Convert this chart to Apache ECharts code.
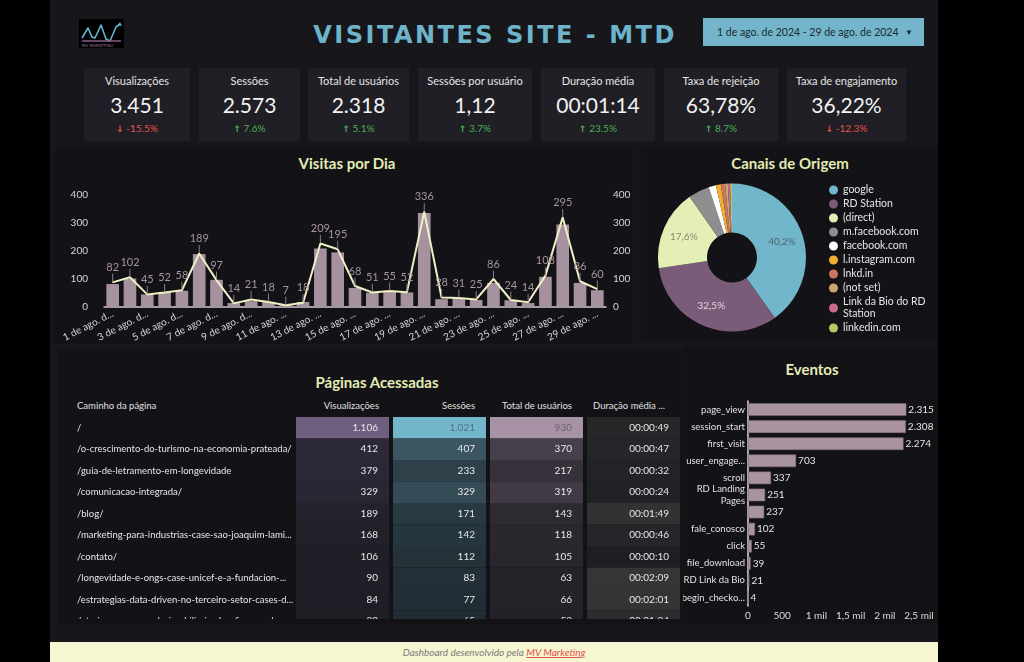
<!DOCTYPE html>
<html lang="pt-BR">
<head>
<meta charset="utf-8">
<title>Visitantes Site - MTD</title>
<script src="https://cdn.jsdelivr.net/npm/echarts@6/dist/echarts.min.js"></script>
<style>
html,body{margin:0;padding:0;background:#000;width:1024px;height:662px;overflow:hidden;font-family:Lato,"Noto Sans",sans-serif;}
.abs{position:absolute;}
#main{left:50px;top:0;width:888px;height:642px;background:#17161b;}
.panel{background:#131217;}
.title{color:#e3ecb2;font-weight:700;font-size:15px;text-align:center;line-height:20px;white-space:nowrap;}
.card{background:#201f25;text-align:center;}
.card .t{position:absolute;left:0;right:0;top:6px;font-size:11px;color:#e4e4e4;line-height:14px;white-space:nowrap;}
.card .v{position:absolute;left:0;right:0;top:24px;font-size:21px;color:#f2f2f2;line-height:26px;font-weight:400;}
.card .d{position:absolute;left:0;right:0;top:54px;font-size:10px;line-height:13px;}
.hdr{font-size:9.5px;color:#e0e0e0;line-height:12px;white-space:nowrap;}
#footer{left:50px;top:642px;width:888px;height:20px;background:#f6f7d2;text-align:center;font-size:10px;line-height:20px;font-style:italic;color:#7a7a7a;}
#footer a{color:#e0504a;text-decoration:underline;}
</style>
</head>
<body>
<div id="main" class="abs"></div>
<div class="abs panel" style="left:55px;top:148px;width:578px;height:196px"></div>
<div class="abs panel" style="left:641px;top:148px;width:297px;height:193px"></div>
<div class="abs panel" style="left:58px;top:350px;width:624px;height:274px"></div>
<div class="abs panel" style="left:683px;top:346px;width:255px;height:278px"></div>

<svg class="abs" style="left:79px;top:19px" width="45" height="29" viewBox="0 0 45 29">
  <rect x="0" y="0" width="45" height="29" fill="#000"/>
  <polyline points="3,19 9,9 13,18 16,19 22,6 27,20 31,22 37,8 41,5" fill="none" stroke="#5fb8cf" stroke-width="1.6" stroke-linejoin="round"/>
  <polygon points="41,3 43,7 39,6" fill="#5fb8cf"/>
  <line x1="3" y1="22" x2="42" y2="22" stroke="#8a5d86" stroke-width="1.5"/>
  <text x="3" y="27.5" font-size="4" fill="#9b6b98" font-family="DejaVu Sans">MV MARKETING</text>
</svg>
<div class="abs" style="left:250px;top:20px;width:490px;text-align:center;font-size:24px;line-height:30px;font-weight:700;letter-spacing:2.5px;color:#6db4ca;font-family:'DejaVu Sans',sans-serif;">VISITANTES SITE - MTD</div>
<div class="abs" style="left:703px;top:18px;width:221px;height:28px;background:#73b5ca;color:#1d2a30;font-size:10.5px;line-height:28px;">
  <span style="position:absolute;left:14px;">1 de ago. de 2024 - 29 de ago. de 2024</span>
  <span style="position:absolute;left:202px;font-size:8px;">&#9660;</span>
</div>

<div id="cards"></div>

<div class="abs title" style="left:247px;top:153px;width:200px;">Visitas por Dia</div>
<div class="abs title" style="left:690px;top:153px;width:200px;">Canais de Origem</div>
<div class="abs title" style="left:277px;top:372px;width:200px;">Páginas Acessadas</div>
<div class="abs title" style="left:712px;top:359px;width:200px;">Eventos</div>

<div id="bar" class="abs" style="left:55px;top:172px;width:580px;height:175px"></div>
<div id="pie" class="abs" style="left:643px;top:150px;width:295px;height:195px"></div>

<div class="abs hdr" style="left:77px;top:400px;">Caminho da página</div>
<div class="abs hdr" style="left:279px;top:400px;width:100px;text-align:right;">Visualizações</div>
<div class="abs hdr" style="left:375px;top:400px;width:100px;text-align:right;">Sessões</div>
<div class="abs hdr" style="left:472px;top:400px;width:100px;text-align:right;">Total de usuários</div>
<div class="abs hdr" style="left:593px;top:400px;">Duração média ...</div>
<div class="abs" style="left:60px;top:412px;width:630px;height:207px;overflow:hidden;">
  <div id="table" style="position:absolute;left:0;top:0;width:630px;height:225px"></div>
</div>

<div id="events" class="abs" style="left:683px;top:350px;width:255px;height:280px"></div>

<div id="footer" class="abs">Dashboard desenvolvido pela <a>MV Marketing</a></div>

<script>
// ---------------- DATA ----------------
const kpiTitles = ['Visualizações','Sessões','Total de usuários','Sessões por usuário','Duração média','Taxa de rejeição','Taxa de engajamento'];
const kpiValues = ['3.451','2.573','2.318','1,12','00:01:14','63,78%','36,22%'];
const kpiDeltas = [-15.5, 7.6, 5.1, 3.7, 23.5, 8.7, -12.3];

const days = ['1 de ago. de 2024','2 de ago. de 2024','3 de ago. de 2024','4 de ago. de 2024','5 de ago. de 2024','6 de ago. de 2024','7 de ago. de 2024','8 de ago. de 2024','9 de ago. de 2024','10 de ago. de 2024','11 de ago. de 2024','12 de ago. de 2024','13 de ago. de 2024','14 de ago. de 2024','15 de ago. de 2024','16 de ago. de 2024','17 de ago. de 2024','18 de ago. de 2024','19 de ago. de 2024','20 de ago. de 2024','21 de ago. de 2024','22 de ago. de 2024','23 de ago. de 2024','24 de ago. de 2024','25 de ago. de 2024','26 de ago. de 2024','27 de ago. de 2024','28 de ago. de 2024','29 de ago. de 2024'];
const visitasBar  = [82,102,45,52,58,189,97,14,21,18,7,18,209,195,68,51,55,52,336,28,31,25,86,24,14,108,295,86,60];
const visitasLine = [88,106,45,52,60,191,96,13,27,18,6,15,227,206,75,52,57,53,340,34,32,27,100,25,17,112,320,92,64];
const axisTicks = [0,100,200,300,400];

const canais = ['google','RD Station','(direct)','m.facebook.com','facebook.com','l.instagram.com','lnkd.in','(not set)','Link da Bio do RD Station','linkedin.com'];
const canaisPct = [40.2,32.5,17.6,4.6,1.6,1.1,0.9,0.6,0.5,0.4];
const canaisCores = ['#72b6cb','#7b5c78','#e4efb6','#8e8e8e','#ffffff','#f0ad2e','#c9785f','#c9a86a','#cc6a8c','#b7c963'];

const paginas = ['/','/o-crescimento-do-turismo-na-economia-prateada/','/guia-de-letramento-em-longevidade','/comunicacao-integrada/','/blog/','/marketing-para-industrias-case-sao-joaquim-lami...','/contato/','/longevidade-e-ongs-case-unicef-e-a-fundacion-ma...','/estrategias-data-driven-no-terceiro-setor-cases-d...','/etarismo-e-mercado-imobiliario-desafios-e-solucoe...'];
const pagViews    = [1106,412,379,329,189,168,106,90,84,80];
const pagSessoes  = [1021,407,233,329,171,142,112,83,77,65];
const pagUsuarios = [930,370,217,319,143,118,105,63,66,53];
const pagDuracao  = ['00:00:49','00:00:47','00:00:32','00:00:24','00:01:49','00:00:46','00:00:10','00:02:09','00:02:01','00:01:24'];

const eventos = ['page_view','session_start','first_visit','user_engagement','scroll','RD Landing Pages',' ','fale_conosco','click','file_download','RD Link da Bio','begin_checkout'];
const eventosVal = [2315,2308,2274,703,337,251,237,102,55,39,21,4];
const eventosTicks = [0,500,1000,1500,2000,2500];

// ---------------- HELPERS ----------------
const FONT = 'Lato, "Noto Sans", sans-serif';
const fmtInt = n => String(n).replace(/\B(?=(\d{3})+(?!\d))/g, '.');
const toSec = s => { const p = s.split(':').map(Number); return p[0]*3600 + p[1]*60 + p[2]; };
function parseColor(c) {
  if (!c) return [0, 0, 0];
  c = String(c).trim();
  if (c[0] === '#') {
    let h = c.slice(1);
    if (h.length === 3) h = h.split('').map(x => x + x).join('');
    return [parseInt(h.slice(0, 2), 16), parseInt(h.slice(2, 4), 16), parseInt(h.slice(4, 6), 16)];
  }
  const m = c.match(/[\d.]+/g);
  return m ? m.slice(0, 3).map(Number) : [0, 0, 0];
}

// ---------------- KPI CARDS ----------------
const cardLayout = [[84,106],[199,101],[308,101],[418,114],[541,114],[664,114],[787,119]];
const cardsEl = document.getElementById('cards');
kpiTitles.forEach((t, i) => {
  const d = kpiDeltas[i];
  const el = document.createElement('div');
  el.className = 'abs card';
  el.style.left = cardLayout[i][0] + 'px';
  el.style.top = '68px';
  el.style.width = cardLayout[i][1] + 'px';
  el.style.height = '73px';
  const col = d < 0 ? '#e5534b' : '#4fae52';
  const arrow = d < 0 ? '&#8595;' : '&#8593;';
  el.innerHTML = '<div class="t">' + t + '</div><div class="v">' + kpiValues[i] + '</div>' +
    '<div class="d" style="color:' + col + '"><span style="font-size:9px;font-weight:700;font-family:DejaVu Sans">' + arrow + '</span> ' + d.toFixed(1) + '%</div>';
  cardsEl.appendChild(el);
});

// ---------------- BAR + LINE ----------------
const barChart = echarts.init(document.getElementById('bar'));
const yAxisCommon = {
  type: 'value', min: axisTicks[0], max: axisTicks[axisTicks.length - 1], interval: axisTicks[1] - axisTicks[0],
  splitLine: { show: false }, axisLine: { show: false }, axisTick: { show: false }
};
barChart.setOption({
  animation: false,
  textStyle: { fontFamily: FONT },
  grid: { left: 49, right: 29, top: 23, bottom: 40, containLabel: false, outerBoundsMode: 'none' },
  xAxis: {
    type: 'category', data: days,
    axisLine: { lineStyle: { color: '#d2cbd2', width: 1.5 } },
    axisTick: { show: false },
    axisLabel: { color: '#d6d6d6', fontSize: 10, fontFamily: FONT, rotate: 27, interval: 1, width: 60, overflow: 'truncate', ellipsis: '...', margin: 6 }
  },
  yAxis: [
    Object.assign({}, yAxisCommon, { position: 'left', axisLabel: { color: '#d6d6d6', fontSize: 10, fontFamily: FONT, margin: 16 } }),
    Object.assign({}, yAxisCommon, { position: 'right', axisLabel: { color: '#d6d6d6', fontSize: 10, fontFamily: FONT, margin: 7 } })
  ],
  series: [
    { type: 'bar', data: visitasBar, barWidth: '73%', itemStyle: { color: '#a6919f' }, z: 1 },
    {
      type: 'line', yAxisIndex: 1, data: visitasLine, symbol: 'circle', symbolSize: 1,
      itemStyle: { color: '#eef0c4' }, lineStyle: { color: '#eef0c4', width: 2 }, z: 3,
      label: {
        show: true, position: 'top', distance: 0,
        formatter: p => '{v|' + visitasBar[p.dataIndex] + '}\n{t|}',
        rich: {
          v: { color: '#a8949f', fontSize: 11, fontFamily: FONT, lineHeight: 13, align: 'center' },
          t: { width: 1, height: 8, backgroundColor: '#8d7d8a', align: 'center' }
        }
      }
    }
  ]
});

// ---------------- PIE ----------------
const pieLabelColors = { 'google': '#4d6670', 'RD Station': '#e2d6e0', '(direct)': '#86896f' };
const pieChart = echarts.init(document.getElementById('pie'));
pieChart.setOption({
  animation: false,
  textStyle: { fontFamily: FONT },
  legend: {
    orient: 'vertical', left: 181, top: 29, icon: 'circle', itemWidth: 9, itemHeight: 9, itemGap: 2,
    selectedMode: false,
    textStyle: { color: '#e6e6e6', fontSize: 10.5, lineHeight: 12, fontFamily: FONT },
    formatter: n => n === 'Link da Bio do RD Station' ? 'Link da Bio do RD\nStation' : n,
    data: canais
  },
  series: [{
    type: 'pie', center: [89, 107.5], radius: [25, 74], startAngle: 90, clockwise: true,
    avoidLabelOverlap: false,
    itemStyle: { borderWidth: 0 },
    label: {
      show: true, position: 'inside', fontSize: 10, fontFamily: FONT,
      formatter: p => p.percent >= 5 ? p.value.toFixed(1).replace('.', ',') + '%' : ''
    },
    labelLine: { show: false },
    data: canais.map((n, i) => ({
      name: n, value: canaisPct[i],
      itemStyle: { color: canaisCores[i] },
      label: { color: pieLabelColors[n] || '#fff' }
    }))
  }]
});

// ---------------- TABLE (heat cells) ----------------
const colDefs = [
  { vals: pagViews,          txt: pagViews.map(fmtInt),    colors: ['#1c1b21', '#332d40', '#6e5f80'] },
  { vals: pagSessoes,        txt: pagSessoes.map(fmtInt),  colors: ['#1b252c', '#44626e', '#73b6cb'] },
  { vals: pagUsuarios,       txt: pagUsuarios.map(fmtInt), colors: ['#1e1c22', '#514856', '#a893a6'] },
  { vals: pagDuracao.map(toSec), txt: pagDuracao,          colors: ['#1c1d21', '#292a2c', '#353535'] }
];
const tableChart = echarts.init(document.getElementById('table'));
function makeRender(def) {
  return function (params, api) {
    const c = api.coord([api.value(0), api.value(1)]);
    const s = api.size([1, 1]);
    const w = s[0] - 4, h = s[1];
    const fill = api.visual('color');
    const rgb = parseColor(fill);
    const lum = (0.299 * rgb[0] + 0.587 * rgb[1] + 0.114 * rgb[2]) / 255;
    const tc = lum > 0.5 ? 'rgba(30,30,40,0.45)' : '#e6e6e6';
    return {
      type: 'group', children: [
        { type: 'rect', shape: { x: c[0] - w / 2, y: c[1] - h / 2, width: w, height: h }, style: { fill: fill } },
        { type: 'text', style: { text: def.txt[params.dataIndex], x: c[0] + w / 2 - 11, y: c[1], align: 'right', verticalAlign: 'middle', fill: tc, font: '10px ' + FONT } }
      ]
    };
  };
}
tableChart.setOption({
  animation: false,
  grid: { left: 234, top: 5, width: 388, height: 215, containLabel: false, outerBoundsMode: 'none' },
  xAxis: { type: 'category', data: ['Visualizações', 'Sessões', 'Total de usuários', 'Duração média'], show: false },
  yAxis: {
    type: 'category', data: paginas, inverse: true,
    axisLine: { show: false }, axisTick: { show: false },
    axisLabel: { align: 'left', margin: 217, color: '#e6e6e6', fontSize: 9.5, fontFamily: FONT, width: 218, overflow: 'truncate', ellipsis: '...' }
  },
  visualMap: colDefs.map((d, i) => ({
    type: 'continuous', show: false, seriesIndex: i, dimension: 2,
    min: 0, max: Math.max.apply(null, d.vals), inRange: { color: d.colors }
  })),
  series: colDefs.map((d, i) => ({
    type: 'custom', renderItem: makeRender(d),
    encode: { x: 0, y: 1 },
    data: d.vals.map((v, r) => [i, r, v])
  }))
});

// ---------------- EVENTS ----------------
const eventsChart = echarts.init(document.getElementById('events'));
eventsChart.setOption({
  animation: false,
  textStyle: { fontFamily: FONT },
  grid: { left: 65, right: 19, top: 51, bottom: 24, containLabel: false, outerBoundsMode: 'none' },
  xAxis: {
    type: 'value', min: eventosTicks[0], max: eventosTicks[eventosTicks.length - 1], interval: eventosTicks[1] - eventosTicks[0],
    splitLine: { show: false }, axisLine: { show: false }, axisTick: { show: false },
    axisLabel: {
      color: '#dcdcdc', fontSize: 10, fontFamily: FONT, margin: 5,
      formatter: v => v < 1000 ? String(v) : String(v / 1000).replace('.', ',') + ' mil'
    }
  },
  yAxis: {
    type: 'category', data: eventos, inverse: true,
    axisLine: { show: true, lineStyle: { color: '#d8d8d8', width: 1.5 } }, axisTick: { show: false },
    axisLabel: {
      color: '#e2e2e2', fontSize: 9.5, fontFamily: FONT, margin: 3, width: 66, overflow: 'truncate', ellipsis: '...',
      lineHeight: 12,
      formatter: n => n === 'RD Landing Pages' ? 'RD Landing\nPages' : n
    }
  },
  series: [{
    type: 'bar', data: eventosVal, barWidth: '74%',
    itemStyle: { color: '#a8939f', borderColor: '#7d6b79', borderWidth: 0.6 },
    label: { show: true, position: 'right', distance: 2, color: '#e4e4e4', fontSize: 10, fontFamily: FONT, formatter: p => fmtInt(p.value) }
  }]
});
</script>
</body>
</html>
